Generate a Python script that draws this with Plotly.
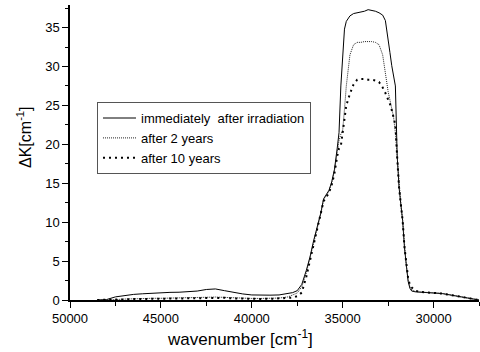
import plotly.graph_objects as go

# wavenumber grid [cm^-1]
wavenumber = [48500, 48000, 47500, 47000, 46500, 46000, 45500, 45000, 44500, 44000,
              43500, 43000, 42500, 42000, 41500, 41000, 40500, 40000, 39500, 39000,
              38500, 38000, 37750, 37500, 37250, 37000, 36800, 36600, 36400, 36200,
              36050, 35900, 35750, 35600, 35450, 35300, 35200, 35100, 35000, 34900,
              34800, 34600, 34400, 34200, 34000, 33800, 33600, 33400, 33200, 33000,
              32800, 32650, 32500, 32400, 32300, 32200, 32100, 32000, 31900, 31800,
              31700, 31600, 31500, 31400, 31300, 31200, 31000, 30750, 30500, 30250,
              30000, 29750, 29500, 29250, 29000, 28750, 28500, 28250, 28000, 27750, 27500]

immediately = [0.0, 0.05, 0.4, 0.6, 0.72, 0.8, 0.88, 0.95, 0.98, 1.0,
               1.05, 1.15, 1.35, 1.42, 1.2, 0.95, 0.78, 0.65, 0.6, 0.62,
               0.65, 0.8, 0.95, 1.2, 2.0, 3.8, 5.5, 7.6, 9.3, 11.2,
               13.0, 13.5, 14.1, 15.2, 16.8, 19.5, 21.5, 27.5, 31.8, 34.8,
               35.8, 36.5, 36.8, 36.9, 37.0, 37.1, 37.3, 37.2, 37.1, 36.9,
               36.6, 35.9, 33.7, 31.8, 30.1, 29.0, 27.5, 18.5, 14.5, 12.3,
               10.2, 6.7, 4.2, 2.4, 1.5, 1.15, 1.05, 1.02, 1.0, 0.97,
               0.95, 0.9, 0.82, 0.72, 0.62, 0.5, 0.4, 0.3, 0.2, 0.08, 0.0]

after_2_years = [0.0, 0.0, 0.05, 0.12, 0.18, 0.2, 0.22, 0.22, 0.23, 0.24,
                 0.26, 0.3, 0.35, 0.38, 0.32, 0.25, 0.22, 0.2, 0.2, 0.22,
                 0.25, 0.4, 0.6, 0.9, 1.7, 3.5, 5.4, 7.5, 9.2, 11.1,
                 12.9, 13.4, 14.0, 15.1, 16.6, 19.0, 20.5, 21.3, 21.8, 24.5,
                 27.5, 31.5, 32.8, 33.1, 33.1, 33.2, 33.2, 33.2, 33.1, 32.8,
                 31.5, 29.0, 26.8, 25.7, 24.5, 23.5, 21.5, 18.0, 14.5, 12.3,
                 10.2, 6.8, 4.4, 2.6, 1.7, 1.3, 1.1, 1.02, 1.0, 0.97,
                 0.95, 0.9, 0.82, 0.72, 0.62, 0.5, 0.4, 0.3, 0.2, 0.08, 0.0]

after_10_years = [0.0, 0.0, 0.03, 0.08, 0.12, 0.14, 0.15, 0.16, 0.17, 0.18,
                  0.2, 0.24, 0.3, 0.33, 0.28, 0.2, 0.16, 0.14, 0.14, 0.15,
                  0.18, 0.25, 0.3, 0.5, 0.95, 3.0, 5.0, 7.3, 9.0, 10.9,
                  12.7, 13.2, 13.8, 14.8, 16.3, 18.5, 19.5, 19.8, 21.5, 23.5,
                  25.0, 26.5, 27.7, 28.3, 28.4, 28.4, 28.3, 28.3, 28.2, 28.0,
                  27.3, 26.6, 25.8, 25.2, 24.4, 23.6, 22.5, 18.3, 14.5, 12.3,
                  10.2, 6.8, 4.5, 2.8, 1.9, 1.6, 1.2, 1.05, 1.0, 0.97,
                  0.95, 0.9, 0.82, 0.72, 0.62, 0.5, 0.4, 0.3, 0.2, 0.08, 0.0]

series_names = ["immediately\u00a0\u00a0after irradiation", "after 2 years", "after 10 years"]
x_title = "wavenumber [cm<sup>-1</sup>]"
y_title = "ΔK[cm<sup>-1</sup>]"

FONT = "Liberation Sans, Arial, sans-serif"

fig = go.Figure()
fig.add_trace(go.Scatter(x=wavenumber, y=immediately, mode="lines", name=series_names[0],
                         line=dict(color="black", width=1)))
fig.add_trace(go.Scatter(x=wavenumber, y=after_2_years, mode="lines", name=series_names[1],
                         line=dict(color="#222222", width=1, dash="1px,1px")))
fig.add_trace(go.Scatter(x=wavenumber, y=after_10_years, mode="lines", name=series_names[2],
                         line=dict(color="black", width=2, dash="2px,4px")))

fig.update_layout(
    width=480, height=352,
    margin=dict(l=70, r=1, t=5, b=52),
    paper_bgcolor="white", plot_bgcolor="white",
    font=dict(family=FONT, color="black", size=13),
    showlegend=True,
    legend=dict(x=0.066, y=0.671, xanchor="left", yanchor="top",
                bordercolor="#555555", borderwidth=1, bgcolor="white",
                font=dict(family=FONT, size=13, color="black"),
                itemwidth=33, tracegroupgap=0),
    annotations=[
        dict(text=x_title, xref="paper", yref="paper", x=0.4156, y=-0.1288,
             xanchor="center", yanchor="middle", showarrow=False,
             font=dict(family=FONT, size=17, color="black")),
        dict(text=y_title, xref="paper", yref="paper", x=-0.1125, y=0.5525,
             xanchor="center", yanchor="middle", showarrow=False, textangle=-90,
             font=dict(family=FONT, size=16, color="black")),
    ],
)
fig.update_xaxes(
    range=[50000, 27500], tickmode="linear", tick0=50000, dtick=5000, tickformat="d",
    showgrid=False, zeroline=False, showline=True, linecolor="black", linewidth=1.5,
    ticks="outside", ticklen=6, tickwidth=1.2, tickcolor="black",
    tickfont=dict(family=FONT, size=13, color="black"),
    minor=dict(ticks="outside", ticklen=4, dtick=2500, tick0=50000, tickcolor="black", tickwidth=1),
    automargin=False,
)
fig.update_yaxes(
    range=[0, 37.9], tickmode="linear", tick0=0, dtick=5,
    showgrid=False, zeroline=False, showline=True, linecolor="black", linewidth=1.5,
    ticks="outside", ticklen=6, tickwidth=1.2, tickcolor="black",
    tickfont=dict(family=FONT, size=13, color="black"),
    minor=dict(ticks="outside", ticklen=3, dtick=2.5, tick0=0, tickcolor="black", tickwidth=1),
    automargin=False,
)

fig.write_html("out.html", config={"displayModeBar": False},
               post_script="document.body.style.margin='0';")
